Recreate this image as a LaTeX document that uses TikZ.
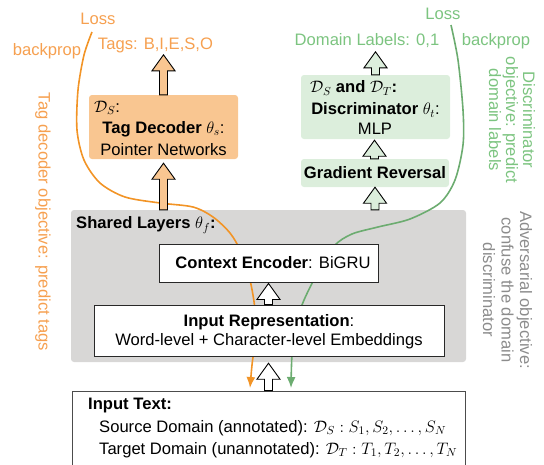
\RequirePackage{fix-cm}
\documentclass[tikz,border=0pt]{standalone}
\usepackage{fontspec}
\setmainfont{Liberation Sans}
\usetikzlibrary{calc,arrows.meta}
\definecolor{oline}{RGB}{242,148,38}
\definecolor{otext}{RGB}{246,160,80}
\definecolor{ofill}{RGB}{249,198,145}
\definecolor{gline}{RGB}{108,172,112}
\definecolor{gtext}{RGB}{124,196,128}
\definecolor{gfill}{RGB}{220,238,220}
\definecolor{sfill}{RGB}{216,215,214}
\definecolor{atext}{RGB}{140,140,140}
\definecolor{bdr}{RGB}{40,40,40}
\tikzset{
  txt/.style={inner sep=0pt},
  panel/.style={inner sep=0pt, rounded corners=3pt},
  wbox/.style={inner sep=0pt, fill=white, draw=bdr, line width=0.9pt},
  barrow/.style={draw=black, line width=0.9pt, line join=miter},
  ocurve/.style={draw=oline, line width=1.6pt, -{Latex[length=11pt,width=9pt]}},
  gcurve/.style={draw=gline, line width=1.6pt, -{Latex[length=11pt,width=9pt]}},
}
\newcommand\blockarrow[3]{%
  \filldraw[barrow,fill=#1] let \p1=#2, \p2=#3 in
  (\x2-4pt,\y1) -- (\x2-4pt,\y2-16pt) -- (\x2-11.5pt,\y2-16pt) -- (\x2,\y2)
  -- (\x2+11.5pt,\y2-16pt) -- (\x2+4pt,\y2-16pt) -- (\x2+4pt,\y1) -- cycle;}
\begin{document}
\begin{tikzpicture}[x=1pt,y=-1pt,font=\fontsize{16.6}{19}\selectfont]
\useasboundingbox (0,0) rectangle (544,464);
% shared layers panel
\node[panel, fill=sfill, minimum width=395pt, minimum height=152pt] (shared) at (268.5,286) {};
% curves
\coordinate (ostart) at (92,32);
\coordinate (oend) at (250,388);
\coordinate (gstart) at (451,25);
\coordinate (gend) at (291,388);
\draw[ocurve] plot[smooth] coordinates {(ostart) (84,55) (78,90) (77,130) (84,160) (100,183) (125,197) (160,203) (193,207) (213,217) (230,233) (241,252) (250,280) (255,310) (255,340) (252,365) (oend)};
\draw[gcurve] plot[smooth] coordinates {(gstart) (458,60) (463,110) (463,145) (455,180) (440,203) (410,219) (378,227) (352,234) (334,246) (318,272) (302,305) (293,340) (gend)};
% boxes
\node[wbox, minimum width=219pt, minimum height=38pt] (ctx) at (268.5,263) {};
\node[wbox, minimum width=350pt, minimum height=51pt] (inrep) at (269,330.5) {};
\node[wbox, draw=black!70, minimum width=393pt, minimum height=80pt] (intext) at (268.5,431) {};
\node[panel, fill=ofill, minimum width=149pt, minimum height=64pt] (dec) at (163.5,127) {};
\node[panel, fill=gfill, minimum width=149pt, minimum height=64pt] (disc) at (375.5,107) {};
\node[panel, fill=gfill, minimum width=148pt, minimum height=28pt] (gr) at (375,173) {};
% top labels
\node[txt, text=otext] (losso) at (98,19) {Loss};
\node[txt, text=otext] (bpo) at (47,51) {backprop};
\node[txt, text=otext] (tags) at (155.5,45) {Tags: B,I,E,S,O};
\node[txt, text=gtext] (lossg) at (443,14) {Loss};
\node[txt, text=gtext] (dom) at (367,41) {Domain Labels: 0,1};
\node[txt, text=gtext] (bpg) at (496,41) {backprop};
% block arrows
\blockarrow{ofill}{(dec.north)}{($(dec.north)+(0,-40)$)}
\blockarrow{ofill}{(dec.south |- shared.north)}{($(dec.south)+(0,4)$)}
\blockarrow{gfill}{(disc.north)}{($(disc.north)+(0,-23)$)}
\blockarrow{gfill}{(gr.north)}{($(disc.south)+(-1,1)$)}
\blockarrow{gfill}{(gr.south |- shared.north)}{(gr.south)}
\blockarrow{white}{(inrep.north)}{($(ctx.south)+(0,1)$)}
\blockarrow{white}{(intext.north)}{($(shared.south)+(0,1)$)}
% box texts
\node[txt, anchor=west] (decds) at (94,108) {$\mathcal{D}_S$:};
\node[txt] (dect) at (163.5,129) {\textbf{Tag Decoder} $\theta_s$:};
\node[txt] (decp) at (163.5,150) {Pointer Networks};
\node[txt, anchor=west] (discds) at (310,88) {$\mathcal{D}_S$ \textbf{and} $\mathcal{D}_T$\textbf{:}};
\node[txt] (disct) at (375.5,110) {\textbf{Discriminator} $\theta_t$:};
\node[txt] (discm) at (375,129) {MLP};
\node[txt] (grt) at (375,173) {\textbf{Gradient Reversal}};
\node[txt, anchor=west] (shl) at (76,225) {\textbf{Shared Layers} $\theta_f$\textbf{:}};
\node[txt] (ctxt) at (273,263) {\textbf{Context Encoder}: BiGRU};
\node[txt] (inrept) at (269,322) {\textbf{Input Representation}:};
\node[txt] (inrepw) at (269,341) {Word-level + Character-level Embeddings};
\node[txt, anchor=west] (ithead) at (88,406) {\textbf{Input Text:}};
\node[txt, anchor=west] (itsrc) at (99,428) {Source Domain (annotated): $\mathcal{D}_S: S_1, S_2, \ldots, S_N$};
\node[txt, anchor=west] (ittgt) at (99,450) {Target Domain (unannotated): $\mathcal{D}_T: T_1, T_2, \ldots, T_N$};
% rotated side texts
\node[txt, rotate=-90, text=otext] (tagobj) at (43,222) {Tag decoder objective: predict tags};
\node[txt, rotate=-90, text=gtext, align=center, font=\fontsize{16.6}{17}\selectfont] (discobj) at (512,120) {Discriminator\\objective: predict\\domain labels};
\node[txt, rotate=-90, text=atext, align=center, font=\fontsize{16.6}{18.5}\selectfont] (advobj) at (507.5,290) {Adversarial objective:\\confuse the domain\\discriminator};
\end{tikzpicture}
\end{document}
